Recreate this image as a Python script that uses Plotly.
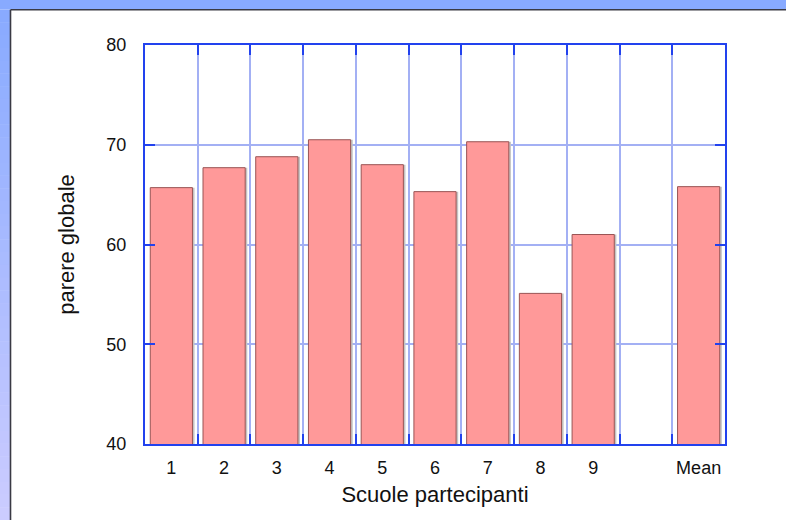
import plotly.graph_objects as go

categories = ["1", "2", "3", "4", "5", "6", "7", "8", "9", " ", "Mean"]
values = [65.7, 67.7, 68.8, 70.5, 68.0, 65.3, 70.3, 55.1, 61.0, None, 65.8]
y_ticks = [40, 50, 60, 70, 80]
x_title = "Scuole partecipanti"
y_title = "parere globale"

W, H = 786, 520
L, R, T, B = 145, 725, 45, 444

def px(x):
    return (x - L) / (R - L)

def py(y):
    return (B - y) / (B - T)

fig = go.Figure()
fig.add_trace(go.Bar(x=categories, y=values, width=0.8, offset=-0.36,
                     marker=dict(color="#c4c4c4", line=dict(width=0)),
                     hoverinfo="skip", showlegend=False))
fig.add_trace(go.Bar(x=categories, y=values, width=0.8, offset=-0.4,
                     marker=dict(color="#ff9999", line=dict(color="#9a5454", width=1)),
                     showlegend=False))

shapes = []
n = 40
def mix(a, b, t):
    return tuple(round(a[i] + (b[i] - a[i]) * t) for i in range(3))
top_c = (136, 170, 255)
bot_c = (204, 204, 255)
y_start = 9.5
for i in range(n):
    y0 = y_start + (H - y_start) * i / n
    y1 = y_start + (H - y_start) * (i + 1) / n
    c = mix(top_c, bot_c, (i + 0.5) / n)
    shapes.append(dict(type="rect", xref="paper", yref="paper",
                       x0=px(-2), x1=px(10), y0=py(y1 + 0.5), y1=py(y0),
                       fillcolor="rgb(%d,%d,%d)" % c, line=dict(width=0), layer="above"))
shapes.append(dict(type="rect", xref="paper", yref="paper",
                   x0=px(-2), x1=px(W + 2), y0=py(9.5), y1=py(-2),
                   fillcolor="#88aaff", line=dict(width=0), layer="above"))
shapes.append(dict(type="line", xref="paper", yref="paper",
                   x0=px(10.5), x1=px(W + 2), y0=py(9.8), y1=py(9.8),
                   line=dict(color="#3a3a44", width=1.6), layer="above"))
shapes.append(dict(type="line", xref="paper", yref="paper",
                   x0=px(10.5), x1=px(10.5), y0=py(9.8), y1=py(H + 2),
                   line=dict(color="#3a3a44", width=1.6), layer="above"))

axis_blue = "#2242ee"
grid_blue = "#a3b0f4"

fig.update_layout(
    width=W, height=H,
    margin=dict(l=L, r=W - R, t=T, b=H - B, pad=0, autoexpand=False),
    paper_bgcolor="white", plot_bgcolor="white",
    barmode="overlay",
    font=dict(family="Liberation Sans, Arial, Helvetica, sans-serif", color="#111111", size=18),
    shapes=shapes,
    xaxis=dict(
        type="category", categoryorder="array", categoryarray=categories,
        range=[-0.5, len(categories) - 0.5], automargin=False,
        tickson="boundaries", ticks="inside", ticklen=10, tickwidth=2, tickcolor=axis_blue,
        showgrid=True, gridcolor=grid_blue, gridwidth=1.5,
        showline=True, linecolor=axis_blue, linewidth=2, mirror="ticks",
        tickfont=dict(size=18), tickangle=0, ticklabelstandoff=6,
        title=dict(text=x_title, font=dict(size=22), standoff=10),
        zeroline=False,
    ),
    yaxis=dict(
        range=[40, 80], tickvals=y_ticks, automargin=False,
        ticks="inside", ticklen=10, tickwidth=2, tickcolor=axis_blue,
        showgrid=True, gridcolor=grid_blue, gridwidth=1.5,
        showline=True, linecolor=axis_blue, linewidth=2, mirror="ticks",
        tickfont=dict(size=18), ticklabelstandoff=13,
        title=dict(text=y_title, font=dict(size=22), standoff=26),
        zeroline=False,
    ),
)

fig.write_html("out.html", config={"displayModeBar": False},
               post_script="document.body.style.margin='0';document.body.style.overflow='hidden';")
